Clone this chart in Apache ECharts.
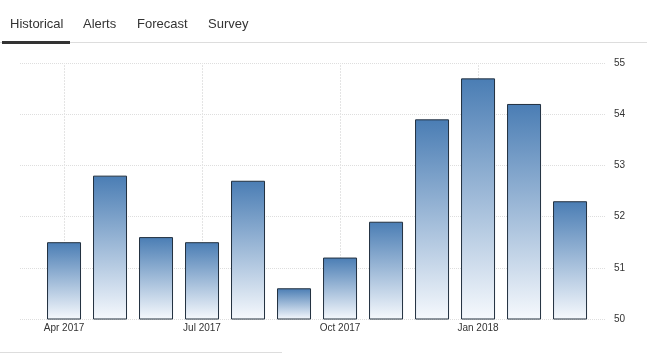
<!DOCTYPE html>
<html>
<head>
<meta charset="utf-8">
<script src="https://cdn.jsdelivr.net/npm/echarts@6/dist/echarts.min.js"></script>
<style>
  html, body { margin: 0; padding: 0; background: #fff; }
  #chart { width: 647px; height: 354px; }
</style>
</head>
<body>
<div id="chart"></div>
<script>
// Chart data
const months = ['Apr 2017', 'May 2017', 'Jun 2017', 'Jul 2017', 'Aug 2017', 'Sep 2017',
                'Oct 2017', 'Nov 2017', 'Dec 2017', 'Jan 2018', 'Feb 2018', 'Mar 2018'];
const values = [51.5, 52.8, 51.6, 51.5, 52.7, 50.6, 51.2, 51.9, 53.9, 54.7, 54.2, 52.3];
const labelledMonths = [0, 3, 6, 9];
const tabNames = ['Historical', 'Alerts', 'Forecast', 'Survey'];
const tabX = [10, 83, 137, 208];

const chart = echarts.init(document.getElementById('chart'));

// Tabs on top
let graphics = [];
tabNames.forEach((name, i) => {
    graphics.push({
        type: 'text', left: tabX[i], top: 18,
        style: { text: name, font: '13px "Liberation Sans", Arial', fill: '#333' }
    });
});
graphics.push({ type: 'rect', shape: { x: 0, y: 42, width: 647, height: 1 }, style: { fill: '#dddddd' } });
graphics.push({ type: 'rect', shape: { x: 2, y: 41, width: 68, height: 3 }, style: { fill: '#333333' } });
graphics.push({ type: 'rect', shape: { x: 0, y: 352, width: 282, height: 1 }, style: { fill: '#dddddd' } });

let option = {
    animation: false,
    graphic: graphics,
    grid: { left: 20, right: 42, top: 63, bottom: 35 },
    xAxis: {
        type: 'value',
        min: -0.957,
        max: 11.76,
        splitLine: { show: false },
        axisLine: { show: false },
        axisTick: { show: false },
        axisLabel: {
            customValues: labelledMonths,
            formatter: function (v) { return months[Math.round(v)]; },
            color: '#333',
            fontSize: 10,
            fontFamily: '"Liberation Sans", Arial',
            margin: 4
        }
    },
    yAxis: {
        type: 'value',
        position: 'right',
        min: 50,
        max: 55,
        interval: 1,
        axisLine: { show: false },
        axisTick: { show: false },
        axisLabel: { color: '#333', fontSize: 10, fontFamily: '"Liberation Sans", Arial', margin: 9 },
        splitLine: { lineStyle: { color: '#dedede', type: [1, 1] } }
    },
    series: [
        {
            type: 'bar',
            barWidth: 34,
            data: values.map((v, i) => [i, v]),
            itemStyle: {
                borderColor: '#22303f',
                borderWidth: 1,
                color: new echarts.graphic.LinearGradient(0, 0, 0, 1, [
                    { offset: 0, color: '#4a7db4' },
                    { offset: 1, color: '#f6f9fd' }
                ])
            },
            z: 3,
            // vertical gridlines at labelled months, kept behind the bars
            markLine: {
                silent: true,
                z: 0,
                symbol: 'none',
                label: { show: false },
                lineStyle: { color: '#e4e4e4', type: [2, 1], width: 1 },
                data: labelledMonths.map(m => ({ xAxis: m }))
            }
        }
    ]
};
chart.setOption(option);
</script>
</body>
</html>
